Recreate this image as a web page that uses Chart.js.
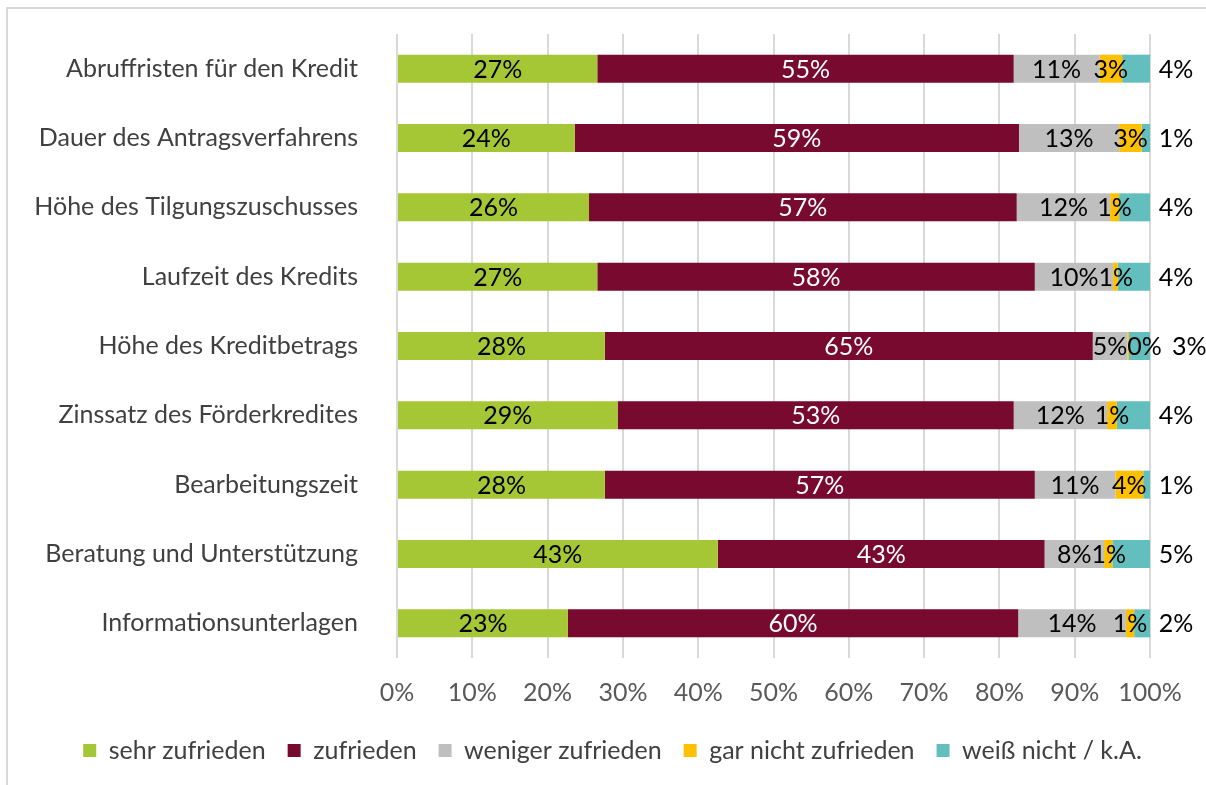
<!DOCTYPE html>
<html>
<head>
<meta charset="utf-8">
<script src="https://cdn.jsdelivr.net/npm/chart.js@4"></script>
<style>
  body { margin: 0; background: #fff; }
  #rahmen { position: absolute; left: 6px; top: 7px; width: 1300px; height: 900px; border-left: 2px solid #d9d9d9; border-top: 2px solid #d9d9d9; }
  #box { position: absolute; left: 0; top: 0; width: 1206px; height: 785px; }
</style>
</head>
<body>
<div id="rahmen"></div>
<div id="box"><canvas id="grafica"></canvas></div>
<script>
// Kategorien (von oben nach unten)
const kategorien = [
  "Abruffristen für den Kredit",
  "Dauer des Antragsverfahrens",
  "Höhe des Tilgungszuschusses",
  "Laufzeit des Kredits",
  "Höhe des Kreditbetrags",
  "Zinssatz des Förderkredites",
  "Bearbeitungszeit",
  "Beratung und Unterstützung",
  "Informationsunterlagen"
];

// Werte in Prozent
const sehrZufrieden    = [26.6, 23.6, 25.5, 26.6, 27.6, 29.3, 27.6, 42.6, 22.7];
const zufrieden        = [55.3, 59.0, 56.8, 58.1, 64.8, 52.6, 57.1, 43.4, 59.8];
const wenigerZufrieden = [11.4, 13.3, 12.4, 10.4, 4.6, 12.4, 10.7, 7.9, 14.3];
const garNicht         = [3.0, 3.0, 1.2, 0.6, 0.2, 1.3, 3.7, 1.1, 1.1];
const weissNicht       = [3.8, 1.1, 4.1, 4.3, 2.8, 4.4, 0.9, 5.0, 2.1];

const serienNamen = ["sehr zufrieden", "zufrieden", "weniger zufrieden", "gar nicht zufrieden", "weiß nicht / k.A."];
const tickWerte = [0, 10, 20, 30, 40, 50, 60, 70, 80, 90, 100];

const farben = ["#a5c735", "#770a2e", "#bfbfbf", "#ffc000", "#63bfbe"];
const textFarben = ["#000000", "#ffffff", "#000000", "#000000", "#000000"];
const schrift = "Lato, 'Open Sans', sans-serif";
const groesse = 25;

// Plugin für die Datenbeschriftungen
const beschriftungen = {
  id: "beschriftungen",
  afterLayout(chart) {
    // Legende etwas nach rechts schieben, wie im Original
    if (chart.legend) {
      chart.legend.left += 30;
      chart.legend.right += 30;
    }
  },
  afterDatasetsDraw(chart) {
    const ctx = chart.ctx;
    const rechts = chart.chartArea.right;
    const letzte = chart.data.datasets.length - 1;
    ctx.save();
    ctx.font = groesse + "px " + schrift;
    ctx.textBaseline = "middle";
    ctx.textAlign = "left";
    const kante = {};
    chart.data.datasets.forEach((ds, i) => {
      const meta = chart.getDatasetMeta(i);
      meta.data.forEach((bar, j) => {
        const text = Math.round(ds.data[j]) + "%";
        const breite = ctx.measureText(text).width;
        let mitte = (bar.x + bar.base) / 2;
        let abstand = 0;
        if (i === letzte) {
          mitte = rechts + 26;
          abstand = 10;
        }
        let links = mitte - breite / 2;
        // nicht über das vorherige Label schreiben
        if (kante[j] !== undefined && links < kante[j] + abstand) {
          links = kante[j] + abstand;
        }
        kante[j] = links + breite;
        ctx.fillStyle = textFarben[i];
        ctx.fillText(text, links, bar.y + 1);
      });
    });
    ctx.restore();
  }
};

const datenreihen = [sehrZufrieden, zufrieden, wenigerZufrieden, garNicht, weissNicht];

new Chart(document.getElementById("grafica"), {
  type: "bar",
  data: {
    labels: kategorien,
    datasets: datenreihen.map((werte, i) => ({
      label: serienNamen[i],
      data: werte,
      backgroundColor: farben[i],
      borderWidth: 0,
      barPercentage: 0.505,
      categoryPercentage: 0.8
    }))
  },
  options: {
    indexAxis: "y",
    responsive: true,
    maintainAspectRatio: false,
    animation: false,
    layout: { padding: { left: 15, top: 34, right: 56, bottom: 12 } },
    plugins: {
      tooltip: { enabled: false },
      legend: {
        position: "bottom",
        labels: {
          boxWidth: 13,
          boxHeight: 13,
          padding: 22,
          color: "#404040",
          font: { family: schrift, size: groesse }
        }
      }
    },
    scales: {
      x: {
        stacked: true,
        min: 0,
        max: 100,
        afterBuildTicks(scale) {
          scale.ticks = tickWerte.map((v) => ({ value: v }));
        },
        afterFit(scale) { scale.height = 58; },
        ticks: {
          callback: (v) => v + "%",
          color: "#595959",
          padding: 20,
          font: { family: schrift, size: groesse }
        },
        grid: { color: "#d9d9d9", lineWidth: 2, drawTicks: false },
        border: { display: false }
      },
      y: {
        stacked: true,
        afterFit(scale) {
          scale.width = 382;
          scale.paddingTop = 0;
          scale.paddingBottom = 0;
        },
        ticks: {
          color: "#404040",
          padding: 31,
          font: { family: schrift, size: groesse }
        },
        grid: { display: false },
        border: { display: false }
      }
    }
  },
  plugins: [beschriftungen]
});
</script>
</body>
</html>
